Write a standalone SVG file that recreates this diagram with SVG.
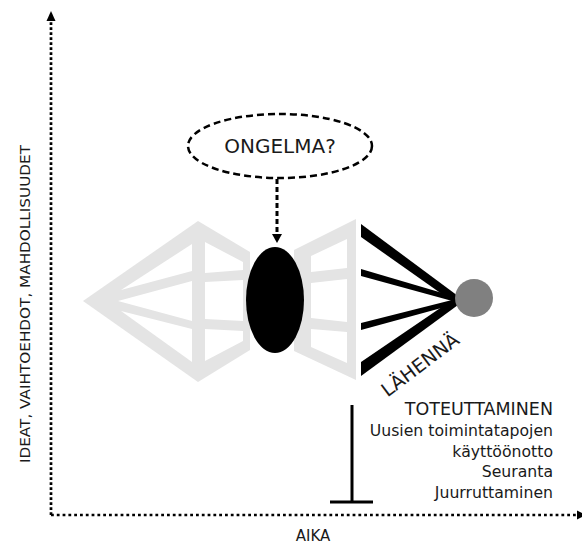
<svg xmlns="http://www.w3.org/2000/svg" width="582" height="547" viewBox="0 0 582 547">
<style>
.grey{fill:#e4e4e4}
.win{fill:#ffffff}
.blk{fill:#000000}
.lbl{font-family:"DejaVu Sans","Liberation Sans",sans-serif;fill:#1a1a1a}
.axis{fill:none;stroke:#000;stroke-width:2.7}
</style>
<rect width="582" height="547" fill="#ffffff"/>
<g id="connectors">
  <line class="axis" x1="51" y1="515" x2="51" y2="20" stroke-dasharray="2.7 2.3"/>
  <polygon points="51,11 46.5,21 55.5,21" fill="#000"/>
  <line class="axis" x1="51" y1="515" x2="577" y2="515" stroke-dasharray="2.8 3"/>
  <polygon points="586,515 577,510.5 577,519.5" fill="#000"/>
  <line x1="277" y1="179" x2="277" y2="235" stroke="#000" stroke-width="3" stroke-dasharray="5 3"/>
  <polygon points="277,243 272,234 282,234" fill="#000"/>
</g>
<g id="left-shape">
  <polygon class="grey" points="83,301 198,221 250,252 250,350 198,382"/>
  <polygon class="win" points="121,290 192,244 192,271"/>
  <polygon class="win" points="118,301 192,281 192,321"/>
  <polygon class="win" points="121,311 192,329 192,362"/>
  <polygon class="win" points="205,242 243,262 243,270 205,273"/>
  <polygon class="win" points="205,282 243,280 243,321 205,319"/>
  <polygon class="win" points="205,329 243,331 243,341 205,361"/>
</g>
<g id="right-shape">
  <polygon class="grey" points="294,250 356,219 356,380 294,351"/>
  <polygon class="win" points="311,256 347,239 347,268 311,272"/>
  <polygon class="win" points="311,283 347,279 347,322 311,318"/>
  <polygon class="win" points="311,329 347,332 347,363 311,347"/>
</g>
<g id="problem-core">
  <ellipse cx="275" cy="300" rx="29" ry="53" fill="#000"/>
</g>
<g id="converge-lines">
  <polygon class="blk" points="361,224 361,237 456,304 458,296"/>
  <polygon class="blk" points="361,269 361,276 456,302 456,297"/>
  <polygon class="blk" points="361,323 361,330 456,304 456,299"/>
  <polygon class="blk" points="361,362 361,376 458,305 455,298"/>
</g>
<g id="solution">
  <circle cx="474" cy="298" r="19" fill="#808080"/>
</g>
<g id="lahenna">
  <text class="lbl" x="0" y="0" font-size="19" text-anchor="middle" transform="translate(424,370) rotate(-37)">LÄHENNÄ</text>
</g>
<g id="ongelma">
  <ellipse cx="280" cy="146" rx="92" ry="32" fill="none" stroke="#000" stroke-width="2.5" stroke-dasharray="7 4"/>
  <text class="lbl" x="280" y="153" font-size="20" text-anchor="middle">ONGELMA?</text>
</g>
<g id="toteuttaminen">
  <line x1="352" y1="405" x2="352" y2="502" stroke="#000" stroke-width="3"/>
  <line x1="330" y1="502" x2="373" y2="502" stroke="#000" stroke-width="3"/>
  <text class="lbl" x="553" y="415" font-size="17.5" text-anchor="end">TOTEUTTAMINEN</text>
  <text class="lbl" x="553" y="436" font-size="15.7" text-anchor="end">Uusien toimintatapojen</text>
  <text class="lbl" x="553" y="456.5" font-size="15.7" text-anchor="end">käyttöönotto</text>
  <text class="lbl" x="553" y="477" font-size="15.7" text-anchor="end">Seuranta</text>
  <text class="lbl" x="553" y="497.5" font-size="15.7" text-anchor="end">Juurruttaminen</text>
</g>
<g id="axis-labels">
  <text class="lbl" x="0" y="0" font-size="14" text-anchor="middle" textLength="318" lengthAdjust="spacingAndGlyphs" transform="translate(30,304) rotate(-90)">IDEAT, VAIHTOEHDOT, MAHDOLLISUUDET</text>
  <text class="lbl" x="313" y="541" font-size="15" text-anchor="middle">AIKA</text>
</g>
</svg>
